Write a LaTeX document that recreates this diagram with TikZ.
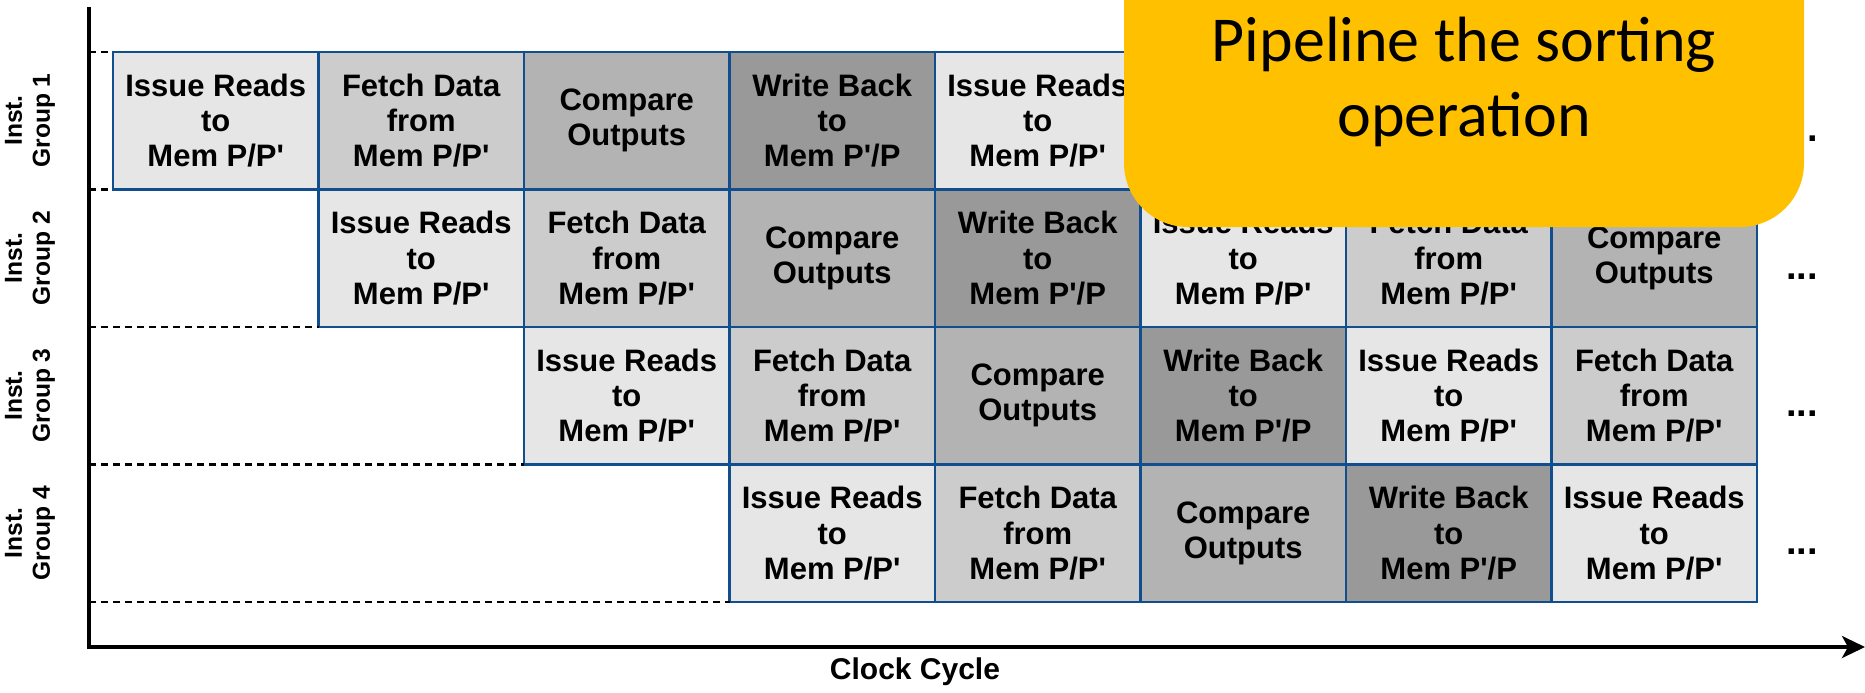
\documentclass[tikz,border=0pt]{standalone}
\usepackage{fontspec}
\setmainfont{Liberation Sans}[Ligatures=TeXOff]
\newfontfamily\calfont{Carlito}
\usetikzlibrary{arrows.meta}
\definecolor{stage0}{HTML}{E6E6E6}
\definecolor{stage1}{HTML}{CCCCCC}
\definecolor{stage2}{HTML}{B3B3B3}
\definecolor{stage3}{HTML}{999999}
\definecolor{cellborder}{RGB}{17,78,142}
\definecolor{calloutcol}{HTML}{FFC000}
\newcommand\stagetxt[1]{\ifcase#1 Issue Reads\\to\\Mem P/P'\or Fetch Data\\from\\Mem P/P'\or Compare\\Outputs\or Write Back\\to\\Mem P'/P\fi}
\tikzset{
  cell/.style={draw=cellborder, line width=1.35pt, minimum width=102.75pt, minimum height=68.75pt,
    inner sep=0pt, outer sep=0pt, anchor=north west, align=center,
    font=\bfseries\fontsize{15.5}{17.6}\selectfont},
  grplabel/.style={rotate=90, align=center, inner sep=0pt, font=\bfseries\fontsize{12.3}{14}\selectfont},
  dotsnode/.style={anchor=base, inner sep=0pt, font=\bfseries\fontsize{19}{20}\selectfont},
  axisline/.style={line width=1.65pt, line join=miter},
  dashline/.style={line width=1.35pt, dash pattern=on 3.5pt off 2.5pt},
  callout/.style={fill=calloutcol, rounded corners=32pt, minimum width=340pt, minimum height=145pt,
    inner sep=0pt, align=center, font=\calfont\fontsize{32}{37.5}\selectfont},
}
\begin{document}
\begin{tikzpicture}[x=0.5pt,y=-0.5pt]
\useasboundingbox (0,0) rectangle (1865,692);
% axes
\coordinate (ytop) at (89,7);
\coordinate (orig) at (89,647);
\coordinate (xend) at (1865,647);
\draw[axisline, -{Stealth[length=11.5pt,width=11pt,inset=3pt]}] (ytop) -- (orig) -- (xend);
% cells
\foreach \i in {1,...,4}{
  \foreach \k in {\i,...,8}{
    \pgfmathtruncatemacro\s{mod(\k-\i,4)}
    \node[cell, fill=stage\s] (b-\i-\k) at ({113+205.5*(\k-1)}, {52+137.5*(\i-1)}) {\stagetxt{\s}};
  }
  \node[grplabel] (g\i) at (30, {120.5+137.5*(\i-1)}) {Inst.\\Group \i};
  \node[dotsnode] (d\i) at (1802, {120.5+137.5*(\i-1)+21}) {...};
}
% dashed guide lines
\coordinate (a0) at (89,52);
\coordinate (a1) at (89,189.5);
\coordinate (a2) at (89,327);
\coordinate (a3) at (89,464.5);
\coordinate (a4) at (89,602);
\draw[dashline] (a0) -- (b-1-1.north west);
\draw[dashline] (a1) -- (b-1-1.south west);
\draw[dashline] (a2) -- (b-2-2.south west);
\draw[dashline] (a3) -- (b-3-3.south west);
\draw[dashline] (a4) -- (b-4-4.south west);
% axis label
\node[font=\bfseries\fontsize{15}{18}\selectfont] (xlabel) at (915,672) {Clock Cycle};
% callout
\node[callout] (pipe) at (1464,82) {Pipeline the sorting\\operation};
\end{tikzpicture}
\end{document}
